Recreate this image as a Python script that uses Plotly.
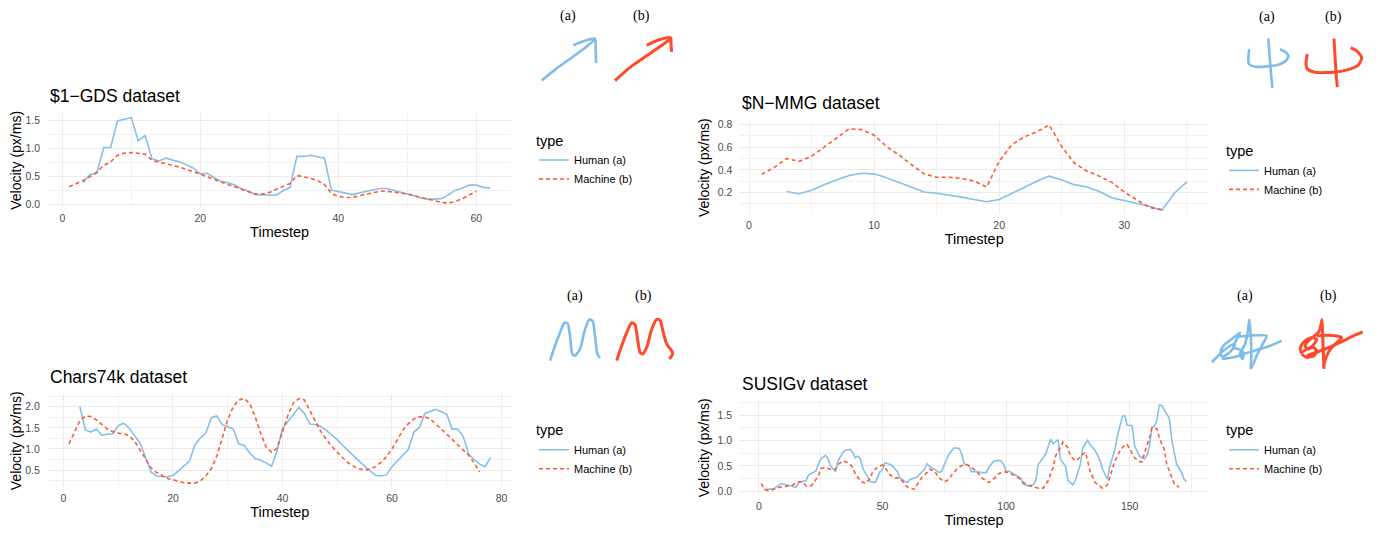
import plotly.graph_objects as go

# page body has an 8px margin; the figure is sized and positioned to compensate
OFF = 8
W, H = 1379 - OFF, 535 - OFF
BLUE = "#85C0E9"
RED = "#FF5A36"
SK_BLUE = "#7FBDE8"
SK_RED = "#FF4B2B"
FONT = "Liberation Sans"
SERIF = "Liberation Serif"

# ---------------- $1-GDS ----------------
gds_t_human = list(range(3, 63))
gds_human = [0.39, 0.54, 0.56, 1.02, 1.02, 1.49, 1.52, 1.55, 1.14, 1.23,
             0.82, 0.78, 0.83, 0.80, 0.76, 0.71, 0.65, 0.55, 0.56, 0.48,
             0.42, 0.39, 0.35, 0.28, 0.24, 0.18, 0.18, 0.18, 0.17, 0.25,
             0.31, 0.86, 0.86, 0.88, 0.86, 0.83, 0.26, 0.23, 0.20, 0.18,
             0.21, 0.24, 0.27, 0.29, 0.29, 0.26, 0.22, 0.19, 0.16, 0.12,
             0.10, 0.10, 0.11, 0.18, 0.26, 0.30, 0.35, 0.35, 0.31, 0.30]
gds_t_machine = list(range(1, 61))
gds_machine = [0.32, 0.37, 0.43, 0.50, 0.58, 0.70, 0.76, 0.88, 0.92, 0.93,
               0.91, 0.90, 0.79, 0.76, 0.74, 0.70, 0.67, 0.63, 0.59, 0.54,
               0.50, 0.45, 0.40, 0.36, 0.32, 0.27, 0.23, 0.19, 0.19, 0.22,
               0.27, 0.32, 0.38, 0.52, 0.50, 0.47, 0.43, 0.36, 0.20, 0.15,
               0.13, 0.13, 0.16, 0.19, 0.22, 0.24, 0.24, 0.23, 0.21, 0.19,
               0.16, 0.12, 0.09, 0.06, 0.04, 0.03, 0.06, 0.11, 0.17, 0.24]

# ---------------- $N-MMG ----------------
mmg_t_human = list(range(3, 36))
mmg_human = [0.21, 0.19, 0.22, 0.27, 0.31, 0.35, 0.37, 0.365, 0.33, 0.29,
             0.245, 0.205, 0.195, 0.18, 0.16, 0.14, 0.12, 0.14, 0.19, 0.245,
             0.30, 0.345, 0.31, 0.27, 0.25, 0.21, 0.155, 0.13, 0.10, 0.08,
             0.045, 0.195, 0.295]
mmg_t_machine = list(range(1, 34))
mmg_machine = [0.36, 0.42, 0.50, 0.475, 0.52, 0.60, 0.68, 0.76, 0.755, 0.705,
               0.605, 0.53, 0.445, 0.365, 0.335, 0.335, 0.325, 0.30, 0.25, 0.475,
               0.62, 0.69, 0.735, 0.795, 0.605, 0.46, 0.39, 0.345, 0.29, 0.205,
               0.135, 0.07, 0.05]

# ---------------- Chars74k ----------------
chars_t_human = list(range(3, 79))
chars_human = [2.00, 1.45, 1.40, 1.47, 1.32, 1.35, 1.36, 1.55, 1.61, 1.49,
               1.31, 1.14, 0.79, 0.45, 0.36, 0.34, 0.34, 0.375, 0.48, 0.59,
               0.71, 1.10, 1.26, 1.375, 1.74, 1.78, 1.57, 1.53, 1.47, 1.12,
               1.08, 0.91, 0.77, 0.73, 0.67, 0.59, 0.95, 1.49, 1.65, 1.80,
               1.98, 1.84, 1.59, 1.58, 1.53, 1.44, 1.34, 1.22, 1.08, 0.95,
               0.83, 0.71, 0.59, 0.48, 0.375, 0.36, 0.39, 0.58, 0.72, 0.86,
               0.99, 1.40, 1.51, 1.84, 1.89, 1.94, 1.88, 1.82, 1.47, 1.47,
               1.30, 0.88, 0.75, 0.64, 0.58, 0.80]
chars_t_machine = list(range(1, 77))
chars_machine = [1.12, 1.41, 1.67, 1.78, 1.77, 1.69, 1.59, 1.47, 1.41, 1.375,
                 1.36, 1.31, 1.18, 0.97, 0.75, 0.55, 0.44, 0.36, 0.30, 0.27,
                 0.23, 0.20, 0.19, 0.19, 0.24, 0.36, 0.53, 0.83, 1.26, 1.70,
                 2.00, 2.16, 2.195, 2.08, 1.77, 1.375, 1.05, 0.92, 1.02, 1.41,
                 1.80, 2.09, 2.195, 2.16, 1.92, 1.65, 1.41, 1.23, 1.06, 0.92,
                 0.79, 0.67, 0.59, 0.53, 0.50, 0.52, 0.58, 0.68, 0.82, 1.00,
                 1.22, 1.45, 1.60, 1.71, 1.76, 1.76, 1.71, 1.60, 1.47, 1.35,
                 1.23, 1.11, 0.98, 0.85, 0.67, 0.45]

# ---------------- SUSIGv ----------------
susig_t_human = [2, 4, 6, 7, 9, 11, 13, 15, 16, 17, 19, 20, 21, 23, 24, 25, 27, 28, 29, 31,
                 32, 33, 34, 35, 37, 38, 39, 40, 41, 42, 44, 45, 47, 48, 49, 50, 51, 53, 54, 56,
                 57, 59, 60, 61, 63, 64, 66, 67, 68, 69, 71, 73, 74, 75, 77, 79, 81, 82, 83, 85,
                 86, 88, 90, 92, 93, 95, 97, 98, 99, 100, 101, 103, 105, 106, 107, 109, 111, 112, 113, 115,
                 116, 118, 119, 121, 122, 124, 125, 127, 128, 130, 131, 133, 134, 136, 138, 139, 141, 142, 144, 145,
                 147, 148, 149, 151, 152, 153, 154, 156, 157, 158, 159, 160, 161, 162, 163, 164, 166, 167, 169, 170,
                 171, 172, 173]
susig_human = [0.04, 0.04, 0.05, 0.09, 0.15, 0.13, 0.11, 0.08, 0.17, 0.19, 0.21, 0.32, 0.35, 0.40, 0.53, 0.64, 0.71, 0.63, 0.50, 0.39,
               0.60, 0.675, 0.77, 0.81, 0.825, 0.76, 0.66, 0.695, 0.64, 0.45, 0.27, 0.195, 0.175, 0.285, 0.39, 0.435, 0.565, 0.53, 0.50, 0.39,
               0.27, 0.195, 0.175, 0.23, 0.27, 0.285, 0.39, 0.435, 0.545, 0.49, 0.435, 0.37, 0.40, 0.53, 0.74, 0.857, 0.845, 0.74, 0.545, 0.50,
               0.39, 0.39, 0.37, 0.37, 0.47, 0.60, 0.61, 0.60, 0.53, 0.39, 0.40, 0.35, 0.29, 0.26, 0.14, 0.11, 0.13, 0.21, 0.53, 0.675,
               0.73, 1.03, 0.935, 1.02, 0.63, 0.50, 0.22, 0.13, 0.22, 0.53, 0.857, 1.006, 0.92, 0.805, 0.61, 0.435, 0.24, 0.50, 0.825, 1.08,
               1.47, 1.49, 1.30, 1.29, 0.89, 0.79, 0.695, 0.64, 0.71, 0.89, 1.25, 1.28, 1.40, 1.70, 1.69, 1.60, 1.44, 1.02, 0.53, 0.455,
               0.37, 0.24, 0.195]
susig_t_machine = [1, 2, 4, 6, 8, 10, 12, 14, 15, 17, 18, 19, 21, 22, 24, 25, 27, 29, 31, 32,
                   34, 36, 38, 39, 41, 43, 45, 46, 48, 50, 51, 53, 55, 56, 58, 59, 61, 63, 64, 66,
                   68, 69, 71, 73, 75, 77, 78, 80, 82, 84, 85, 87, 88, 90, 92, 93, 95, 97, 99, 101,
                   103, 105, 107, 109, 111, 113, 115, 117, 119, 120, 122, 123, 125, 126, 128, 129, 131, 132, 133, 134,
                   136, 138, 139, 141, 142, 144, 146, 148, 149, 150, 152, 154, 155, 156, 158, 159, 161, 162, 164, 165,
                   167, 168, 170]
susig_machine = [0.156, 0.045, 0.013, 0.045, 0.08, 0.09, 0.11, 0.13, 0.175, 0.195, 0.175, 0.11, 0.11, 0.156, 0.305, 0.45, 0.47, 0.435, 0.435, 0.53,
                 0.60, 0.565, 0.47, 0.34, 0.21, 0.156, 0.25, 0.39, 0.48, 0.52, 0.47, 0.325, 0.26, 0.27, 0.21, 0.123, 0.065, 0.045, 0.13, 0.285,
                 0.37, 0.435, 0.40, 0.26, 0.19, 0.24, 0.325, 0.435, 0.51, 0.53, 0.51, 0.435, 0.40, 0.27, 0.195, 0.175, 0.25, 0.35, 0.39, 0.37,
                 0.325, 0.27, 0.175, 0.123, 0.09, 0.065, 0.065, 0.21, 0.47, 0.695, 0.87, 0.97, 0.857, 0.695, 0.60, 0.63, 0.73, 0.77, 0.60, 0.39,
                 0.175, 0.09, 0.065, 0.13, 0.285, 0.60, 0.79, 0.92, 0.92, 0.825, 0.66, 0.585, 0.58, 0.76, 1.05, 1.25, 1.23, 1.05, 0.825, 0.53,
                 0.285, 0.156, 0.08]

# ---------------- sketch strokes (local pen coordinates) ----------------
gds_sketch_a_x = [65, 110, 160, 200, 225, None, 160, 192, 225, 227, 228]
gds_sketch_a_y = [235, 198, 162, 132, 110, None, 128, 115, 108, 140, 182]
gds_sketch_b_x = [285, 330, 380, 420, 452, None, 380, 415, 452, 453, 455]
gds_sketch_b_y = [235, 195, 160, 132, 108, None, 128, 112, 105, 125, 148]

mmg_sketch_a_x = [205, 208, 212, 217, None, 148, 145, 147, 165, 200, 235, 258, 265, 255, 240]
mmg_sketch_a_y = [108, 150, 200, 258, None, 140, 165, 185, 193, 192, 187, 175, 160, 148, 140]
mmg_sketch_b_x = [402, 405, 408, 412, None, 322, 318, 322, 345, 400, 445, 475, 485, 470, 452]
mmg_sketch_b_y = [108, 160, 210, 255, None, 155, 180, 200, 210, 210, 202, 188, 165, 145, 135]

chars_sketch_a_x = [90, 105, 120, 133, 143, 150, 157, 165, 180, 195, 208, 218, 225, 232, 240]
chars_sketch_a_y = [245, 200, 160, 130, 132, 170, 225, 230, 210, 150, 120, 125, 170, 225, 237]
chars_sketch_b_x = [290, 305, 320, 335, 345, 352, 360, 368, 380, 395, 410, 420, 430, 440, 455, 458, 448]
chars_sketch_b_y = [245, 200, 160, 130, 135, 175, 220, 225, 205, 150, 120, 122, 160, 195, 215, 225, 240]

susig_sketch_a_x = [65, 80, 100, 120, 135, 128, 112, 95, 92, 105, 125, 140, 150, 135, 130, 145, 160, 158, 150, 165,
                    172, 178, 182, 184, 182, None, 140, 170, 200, 230, 215, 200, 190, 182, None,
                    95, 130, 170, 210, 245, 275]
susig_sketch_a_y = [250, 235, 215, 200, 195, 210, 225, 232, 215, 195, 180, 168, 160, 190, 205, 210, 220, 240, 225, 195,
                    165, 120, 165, 220, 270, None, 172, 170, 168, 170, 200, 230, 255, 270, None,
                    240, 235, 222, 210, 198, 185]
susig_sketch_b_x = [330, 333, 345, 365, 380, 372, 355, 345, 352, 370, 385, 392, 396, 398, 400, 402, None,
                    380, 410, 440, 455, 430, 415, 405, 400, None,
                    335, 350, 372, 380, 370, 350, 335, 330, None, 350, 400, 450, 490, 518]
susig_sketch_b_y = [215, 200, 185, 175, 180, 195, 210, 200, 188, 172, 160, 140, 120, 170, 220, 270, None,
                    170, 168, 170, 175, 200, 220, 245, 265, None,
                    225, 235, 230, 215, 205, 210, 220, 215, None, 230, 212, 190, 170, 158]

titles = ["$1\u2212GDS dataset", "$N\u2212MMG dataset", "Chars74k dataset", "SUSIGv dataset"]


# ---------------- layout helpers (page pixel -> paper fraction) ----------------
def fx(p):
    return (p - OFF) / W


def fy(p):
    return 1 - (p - OFF) / H


def expand(*arrs):
    vals = [v for a in arrs for v in a]
    lo, hi = min(vals), max(vals)
    pad = 0.05 * (hi - lo)
    return [lo - pad, hi + pad]


def dom(rng, anchors, vertical=False):
    (v1, p1), (v2, p2) = anchors
    s = (p2 - p1) / (v2 - v1)
    a = p1 + (rng[0] - v1) * s
    b = p1 + (rng[1] - v1) * s
    if vertical:
        return sorted([fy(a), fy(b)])
    return [fx(a), fx(b)]


panels = [
    dict(th=gds_t_human, vh=gds_human, tm=gds_t_machine, vm=gds_machine,
         xa=[(0, 62.3), (60, 476.3)], ya=[(0, 204.0), (1.5, 118.7)],
         xd=20, xm=10, yd=0.5, ym=0.25, title_y=94, leg=(534, 125)),
    dict(th=mmg_t_human, vh=mmg_human, tm=mmg_t_machine, vm=mmg_machine,
         xa=[(0, 749.0), (30, 1124.3)], ya=[(0.2, 191.7), (0.8, 122.7)],
         xd=10, xm=5, yd=0.2, ym=0.1, title_y=101.5, leg=(1224, 135.5)),
    dict(th=chars_t_human, vh=chars_human, tm=chars_t_machine, vm=chars_machine,
         xa=[(0, 63.5), (80, 501.5)], ya=[(0.5, 472.3), (2.0, 408.3)],
         xd=20, xm=10, yd=0.5, ym=0.25, title_y=378.5, leg=(534, 418)),
    dict(th=susig_t_human, vh=susig_human, tm=susig_t_machine, vm=susig_machine,
         xa=[(0, 759.0), (150, 1129.7)], ya=[(0.0, 494.0), (1.5, 416.7)],
         xd=50, xm=25, yd=0.5, ym=0.25, title_y=385.5, leg=(1224, 418)),
]

sketches = [
    dict(box=(520, 0, 170, 90), a=(gds_sketch_a_x, gds_sketch_a_y), b=(gds_sketch_b_x, gds_sketch_b_y),
         la=(145, 40), lb=(365, 40)),
    dict(box=(1200, 0, 179, 95), a=(mmg_sketch_a_x, mmg_sketch_a_y), b=(mmg_sketch_b_x, mmg_sketch_b_y),
         la=(200, 42), lb=(400, 42)),
    dict(box=(520, 280, 170, 90), a=(chars_sketch_a_x, chars_sketch_a_y), b=(chars_sketch_b_x, chars_sketch_b_y),
         la=(165, 50), lb=(370, 50)),
    dict(box=(1190, 280, 189, 100), a=(susig_sketch_a_x, susig_sketch_a_y), b=(susig_sketch_b_x, susig_sketch_b_y),
         la=(165, 50), lb=(415, 50)),
]

fig = go.Figure()
layout = dict(width=W, height=H, margin=dict(l=0, r=0, t=0, b=0),
              paper_bgcolor="white", plot_bgcolor="white",
              font=dict(family=FONT, color="black"), annotations=[])

GRID = "#EBEBEB"
for i, p in enumerate(panels, start=1):
    sfx = "" if i == 1 else str(i)
    leg = "legend" + sfx
    xr = expand(p["th"], p["tm"])
    yr = expand(p["vh"], p["vm"])
    fig.add_trace(go.Scatter(x=p["th"], y=p["vh"], mode="lines", name="Human (a)",
                             line=dict(color=BLUE, width=1.6), xaxis="x" + sfx, yaxis="y" + sfx,
                             legend=leg))
    fig.add_trace(go.Scatter(x=p["tm"], y=p["vm"], mode="lines", name="Machine (b)",
                             line=dict(color=RED, width=1.6, dash="4px,3px"), xaxis="x" + sfx,
                             yaxis="y" + sfx, legend=leg))
    layout["xaxis" + sfx] = dict(
        domain=dom(xr, p["xa"]), range=xr, anchor="y" + sfx, dtick=p["xd"], tick0=0,
        showgrid=True, gridcolor=GRID, gridwidth=1.1, zeroline=False, showline=False, ticks="",
        minor=dict(dtick=p["xm"], tick0=0, showgrid=True, gridcolor="#F1F1F1", gridwidth=0.6),
        tickfont=dict(size=10.5, color="#4D4D4D"), ticklabelstandoff=3,
        title=dict(text="Timestep", font=dict(size=14.5), standoff=3), fixedrange=True)
    layout["yaxis" + sfx] = dict(
        domain=dom(yr, p["ya"], vertical=True), range=yr, anchor="x" + sfx, dtick=p["yd"], tick0=0,
        tickformat=".1f",
        showgrid=True, gridcolor=GRID, gridwidth=1.1, zeroline=False, showline=False, ticks="",
        minor=dict(dtick=p["ym"], tick0=0, showgrid=True, gridcolor="#F1F1F1", gridwidth=0.6),
        tickfont=dict(size=10.5, color="#4D4D4D"), ticklabelstandoff=7,
        title=dict(text="Velocity (px/ms)", font=dict(size=14), standoff=4), fixedrange=True)
    layout[leg] = dict(x=fx(p["leg"][0]), y=fy(p["leg"][1]), xanchor="left", yanchor="top",
                       title=dict(text="type", font=dict(size=14.5)), font=dict(size=11),
                       bgcolor="rgba(0,0,0,0)", itemwidth=30, tracegroupgap=0)
    xdom = layout["xaxis" + sfx]["domain"]
    layout["annotations"].append(dict(text=titles[i - 1], xref="paper", yref="paper",
                                      x=xdom[0], y=fy(p["title_y"]), xanchor="left", yanchor="middle",
                                      showarrow=False, font=dict(size=17.5, color="black")))

for j, s in enumerate(sketches, start=5):
    bx, by, bw, bh = s["box"]
    sfx = str(j)
    fig.add_trace(go.Scatter(x=s["a"][0], y=s["a"][1], mode="lines", showlegend=False,
                             line=dict(color=SK_BLUE, width=2.6, shape="spline", smoothing=0.6),
                             xaxis="x" + sfx, yaxis="y" + sfx, hoverinfo="skip"))
    fig.add_trace(go.Scatter(x=s["b"][0], y=s["b"][1], mode="lines", showlegend=False,
                             line=dict(color=SK_RED, width=3.0, shape="spline", smoothing=0.6),
                             xaxis="x" + sfx, yaxis="y" + sfx, hoverinfo="skip"))
    x0, x1 = fx(bx), fx(bx + bw)
    layout["xaxis" + sfx] = dict(domain=[max(0, x0), min(1, x1)],
                                 range=[0, bw * 3 * (min(1, x1) - x0) / (x1 - x0)], visible=False,
                                 anchor="y" + sfx, fixedrange=True)
    layout["yaxis" + sfx] = dict(domain=[fy(by + bh), min(1, fy(by))], range=[bh * 3, OFF * 3 if by < OFF else 0],
                                 visible=False, anchor="x" + sfx, fixedrange=True)
    for lab, pos in (("(a)", s["la"]), ("(b)", s["lb"])):
        layout["annotations"].append(dict(text=lab, xref="x" + sfx, yref="y" + sfx, x=pos[0], y=pos[1],
                                          showarrow=False, xanchor="center", yanchor="middle",
                                          font=dict(family=SERIF, size=14, color="black")))

fig.update_layout(**layout)
fig.write_html("out.html")
